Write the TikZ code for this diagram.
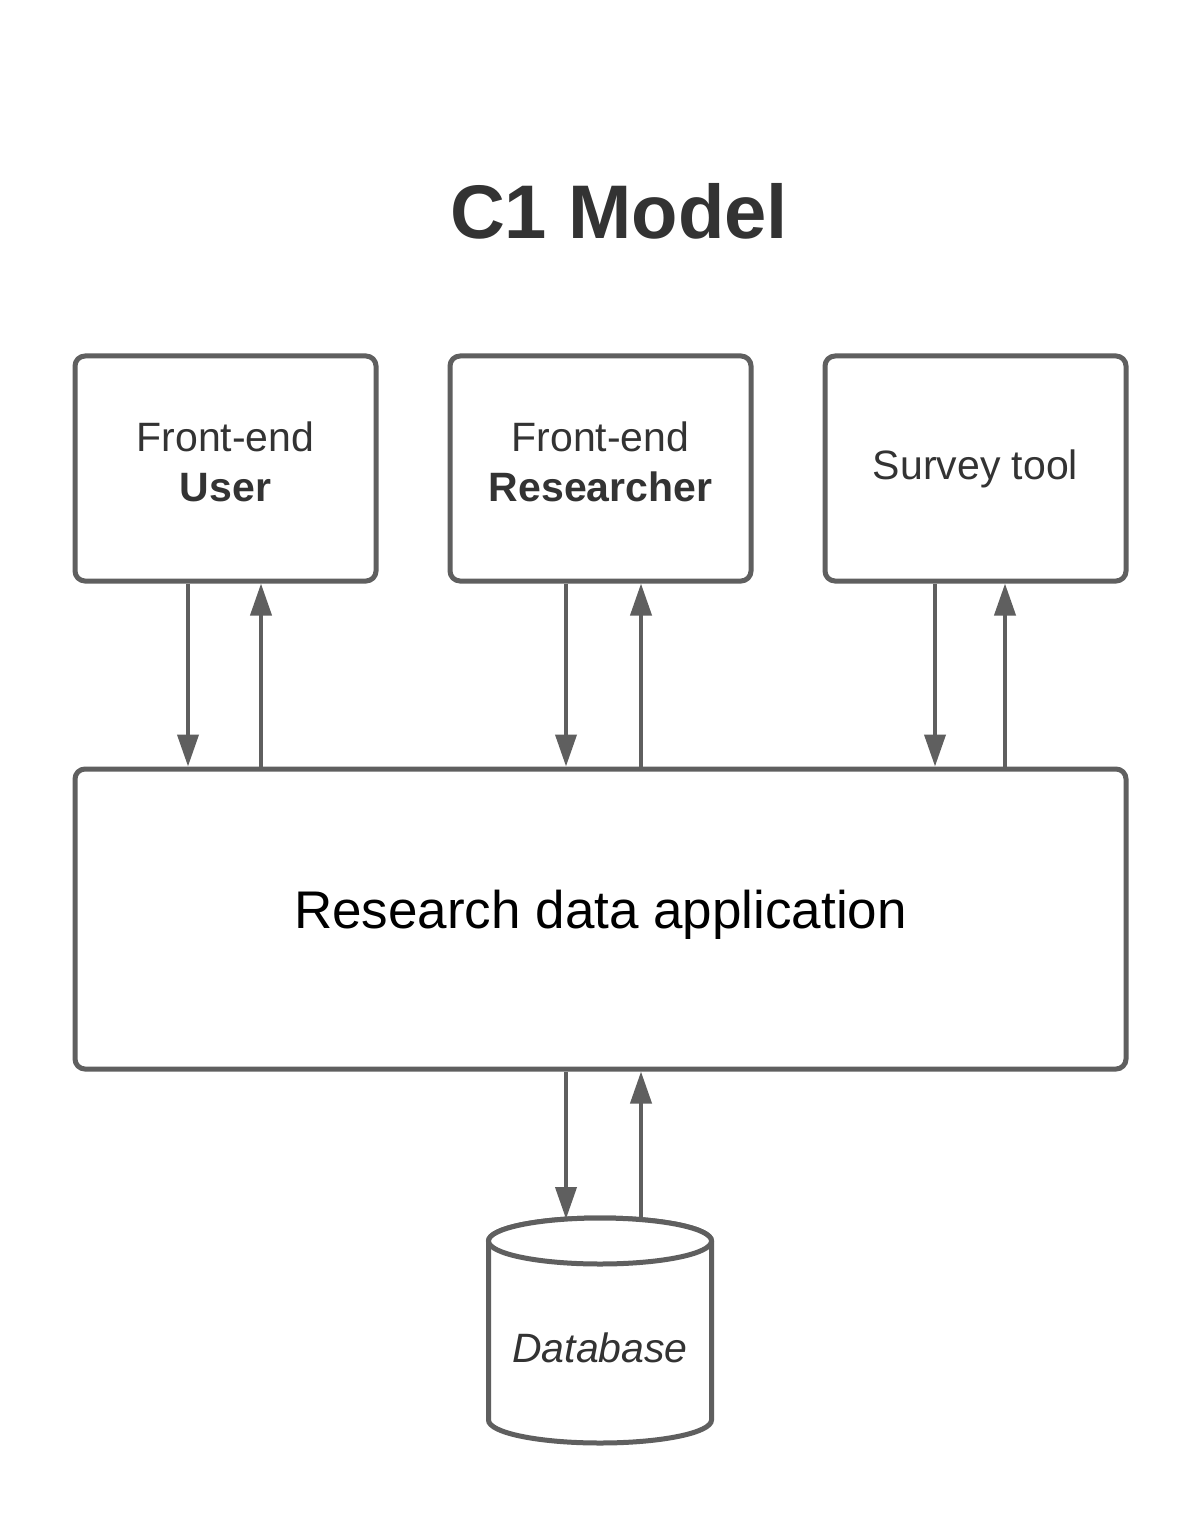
\documentclass[tikz,border=0pt]{standalone}
\usepackage{fontspec}
\setmainfont{Liberation Sans}
\usetikzlibrary{arrows.meta}
\definecolor{ln}{HTML}{5F5F5F}
\definecolor{tx}{HTML}{333333}
\begin{document}
\begin{tikzpicture}[x=0.5pt,y=-0.5pt,
  box/.style={draw=ln, line width=2.5pt, rounded corners=5pt, rectangle,
    minimum width=150.5pt, minimum height=112.5pt, align=center, text=tx,
    font=\fontsize{20.5}{25}\selectfont},
  bigbox/.style={draw=ln, line width=2.5pt, rounded corners=5pt, rectangle,
    minimum width=525.5pt, minimum height=150pt, text=black,
    font=\fontsize{26.5}{30}\selectfont},
  arr/.style={draw=ln, line width=2pt, -{Triangle[width=10.5pt,length=16pt]}},
  cyl/.style={draw=ln, line width=2.5pt, fill=white}]
\useasboundingbox[fill=white] (0,0) rectangle (1200,1519);

\node[text=tx, font=\fontsize{38}{44}\selectfont\bfseries] (title) at (619,211) {C1 Model};

\node[box] (fu) at (225.5,468.5) {};
\node[box] (fr) at (600.5,468.5) {};
\node[box] (st) at (975.5,468.5) {Survey tool};
\node[align=center, text=tx, font=\fontsize{20.5}{25}\selectfont] (fut) at (225.5,461.5) {Front-end\\\textbf{User}};
\node[align=center, text=tx, font=\fontsize{20.5}{25}\selectfont] (frt) at (600.5,461.5) {Front-end\\\textbf{Researcher}};
\node[bigbox] (app) at (600.5,919) {};
\node[text=black, font=\fontsize{26.5}{30}\selectfont] (appt) at (600.5,915) {Research data application};

% cylinder
\path[cyl] (488.5,1241) -- (488.5,1420) arc[start angle=180, end angle=0, x radius=111.5, y radius=23]
  -- (711.5,1241) arc[start angle=0, end angle=-180, x radius=111.5, y radius=23] -- cycle;
\draw[cyl] (600,1241) ellipse[x radius=111.5, y radius=23];
\node[text=tx, font=\fontsize{20.5}{25}\selectfont\itshape] (db) at (600,1348) {Database};

\coordinate (x1d) at (188,0);  \coordinate (x1u) at (261,0);
\coordinate (x2d) at (566,0);  \coordinate (x2u) at (641,0);
\coordinate (x3d) at (935,0);  \coordinate (x3u) at (1005,0);
\coordinate (dbd) at (566,1219); \coordinate (dbu) at (641,1221);

\draw[arr] (fu.south -| x1d) -- (app.north -| x1d);
\draw[arr] (app.north -| x1u) -- (fu.south -| x1u);
\draw[arr] (fr.south -| x2d) -- (app.north -| x2d);
\draw[arr] (app.north -| x2u) -- (fr.south -| x2u);
\draw[arr] (st.south -| x3d) -- (app.north -| x3d);
\draw[arr] (app.north -| x3u) -- (st.south -| x3u);
\draw[arr] (app.south -| dbd) -- (dbd);
\draw[arr] (dbu) -- (app.south -| dbu);
\end{tikzpicture}
\end{document}
